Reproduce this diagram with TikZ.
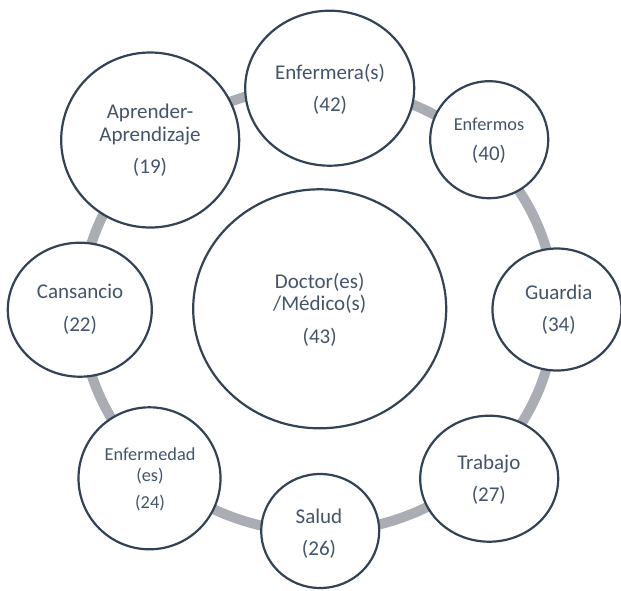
\documentclass[tikz,border=0pt]{standalone}
\usepackage{fontspec}
\setmainfont{Carlito}
\usetikzlibrary{shapes.geometric}
\definecolor{ringgray}{RGB}{170,173,180}
\definecolor{bubline}{RGB}{52,66,86}
\definecolor{bubtext}{RGB}{68,84,106}
\tikzset{
  ringpath/.style={draw=ringgray, line width=10pt, ellipse, inner sep=0pt, outer sep=0pt},
  bub/.style={draw=bubline, fill=white, line width=2.2pt, ellipse, inner sep=0pt, outer sep=0pt},
  lbl/.style={text=bubtext, anchor=base, inner sep=0pt, font=\fontsize{21}{22}\selectfont},
  lblsmall/.style={lbl, font=\fontsize{18.3}{20}\selectfont}
}
\begin{document}
\begin{tikzpicture}[x=1pt,y=-1pt]
\useasboundingbox (0,0) rectangle (621,590);
\fill[white] (0,0) rectangle (621,590);

% gray ring linking the outer bubbles
\node[ringpath, minimum width=474pt, minimum height=446pt] (ring) at (318,309) {};

% bubbles
\node[bub, minimum width=253pt, minimum height=239pt] (doctor) at (319.7,308.8) {};
\node[bub, minimum width=169pt, minimum height=155pt] (enfermera) at (329.7,88.2) {};
\node[bub, minimum width=118pt, minimum height=117pt] (enfermos) at (489.2,139.7) {};
\node[bub, minimum width=129pt, minimum height=122pt] (guardia) at (557,309.5) {};
\node[bub, minimum width=138pt, minimum height=126pt] (trabajo) at (489.2,478.7) {};
\node[bub, minimum width=118pt, minimum height=114pt] (salud) at (320.2,531) {};
\node[bub, minimum width=142pt, minimum height=142pt] (enfermedad) at (149.5,478.3) {};
\node[bub, minimum width=144pt, minimum height=134pt] (cansancio) at (79.8,309.7) {};
\node[bub, minimum width=178pt, minimum height=175pt] (aprender) at (150.2,140) {};

% labels
\node[lbl] (t-doc1) at (319.7,288.3) {Doctor(es)};
\node[lbl] (t-doc2) at (319.7,310) {/Médico(s)};
\node[lbl] (t-doc3) at (319.7,343) {(43)};

\node[lbl] (t-enf1) at (330,79) {Enfermera(s)};
\node[lbl] (t-enf2) at (330,111.5) {(42)};

\node[lblsmall] (t-eno1) at (489,130) {Enfermos};
\node[lbl] (t-eno2) at (489,160) {(40)};

\node[lbl] (t-gua1) at (558.7,299.3) {Guardia};
\node[lbl] (t-gua2) at (558.7,331.7) {(34)};

\node[lbl] (t-tra1) at (488.8,469) {Trabajo};
\node[lbl] (t-tra2) at (488.8,501.7) {(27)};

\node[lbl] (t-sal1) at (319,523.3) {Salud};
\node[lbl] (t-sal2) at (319,555) {(26)};

\node[lblsmall] (t-efd1) at (150,460) {Enfermedad};
\node[lblsmall] (t-efd2) at (150,481.7) {(es)};
\node[lblsmall] (t-efd3) at (150,508) {(24)};

\node[lbl] (t-can1) at (80,298.3) {Cansancio};
\node[lbl] (t-can2) at (80,331.7) {(22)};

\node[lbl] (t-apr1) at (150,118) {Aprender-};
\node[lbl] (t-apr2) at (150,141.7) {Aprendizaje};
\node[lbl] (t-apr3) at (150,173) {(19)};
\end{tikzpicture}
\end{document}
